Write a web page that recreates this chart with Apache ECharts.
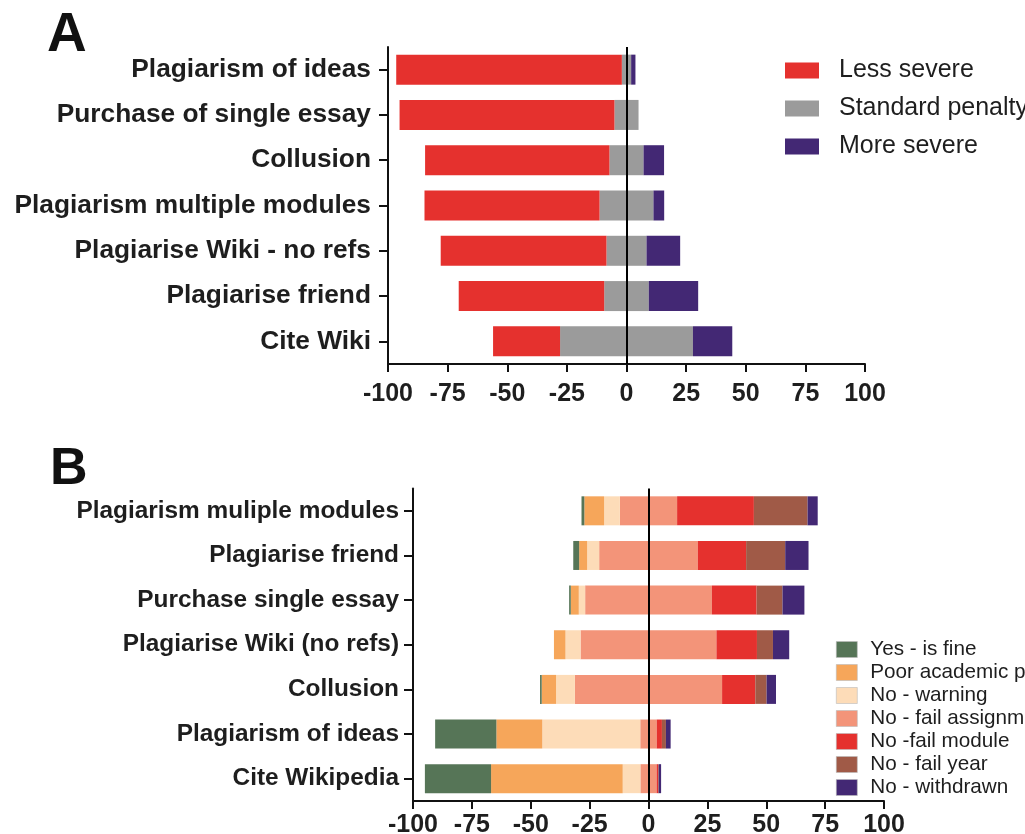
<!DOCTYPE html>
<html>
<head>
<meta charset="utf-8">
<script src="https://cdn.jsdelivr.net/npm/echarts@6/dist/echarts.min.js"></script>
<style>
html,body{margin:0;padding:0;background:#fff;}
#chart{width:1025px;height:834px;}
</style>
</head>
<body>
<div id="chart"></div>
<script>
// Panel A data (percent of respondents)
var catsA = ['Plagiarism of ideas','Purchase of single essay','Collusion','Plagiarism multiple modules','Plagiarise Wiki - no refs','Plagiarise friend','Cite Wiki'];
var lessSevere = [94.6, 90.1, 77.3, 73.4, 69.5, 61.0, 28.1];
var standardPenalty = [3.9, 10.1, 14.3, 22.6, 16.8, 18.7, 55.7];
var moreSevere = [1.8, 0, 8.6, 4.5, 14.1, 20.7, 16.5];

// Panel B data (percent of respondents)
var catsB = ['Plagiarism muliple modules','Plagiarise friend','Purchase single essay','Plagiarise Wiki (no refs)','Collusion','Plagiarism of ideas','Cite Wikipedia'];
var yesFine = [1.2, 2.5, 0.7, 0, 0.7, 26.0, 28.1];
var poorPractice = [8.4, 3.4, 3.4, 4.9, 6.1, 19.5, 55.9];
var noWarning = [6.7, 5.1, 2.7, 6.4, 8.0, 41.6, 7.5];
var failAssignment = [24.3, 41.9, 53.8, 57.7, 62.5, 7.0, 6.9];
var failModule = [32.6, 20.5, 19.0, 17.2, 14.1, 2.2, 0.6];
var failYear = [22.8, 16.6, 11.0, 6.8, 4.8, 1.7, 0.3];
var withdrawn = [4.3, 9.9, 9.3, 6.9, 4.0, 2.0, 1.0];

var ticks = [-100,-75,-50,-25,0,25,50,75,100];

var FONT = '"Liberation Sans", Arial, sans-serif';
var TXT = '#1e1e1e';

var cRed = '#e5312e', cGray = '#9b9b9b', cPurple = '#432874';
var cGreen = '#567557', cOrange = '#f6a65a', cPeach = '#fddcb8', cSalmon = '#f39479', cBrown = '#a05a47';

function neg(a){return a.map(function(v){return -v;});}
function half(a,s){return a.map(function(v){return s*v/2;});}

var zeroLine = {
  silent: true, symbol: ['none','none'], label: {show:false},
  lineStyle: {color:'#000', width:2, type:'solid'},
  emphasis: {disabled:true},
  data: [{xAxis: 0}]
};

function xAx(gi, margin){
  return {
    gridIndex: gi, type:'value', min:-100, max:100, interval:25,
    axisLine:{show:true, onZero:false, lineStyle:{color:'#111', width:2}},
    axisTick:{show:true, length:8, lineStyle:{color:'#111', width:2}},
    splitLine:{show:false},
    axisLabel:{color:TXT, fontSize:25, fontWeight:'bold', fontFamily:FONT, margin:margin,
      formatter:function(v){return ticks.indexOf(v)>=0 ? String(v) : '';}}
  };
}
function yAx(gi, cats, margin, fs, pad){
  return {
    gridIndex: gi, type:'category', data: cats, inverse:true,
    axisLine:{show:true, onZero:false, lineStyle:{color:'#111', width:2}},
    axisTick:{show:true, length:9, alignWithLabel:true, lineStyle:{color:'#111', width:2}},
    splitLine:{show:false},
    axisLabel:{color:TXT, fontSize:fs, fontWeight:'bold', fontFamily:FONT, margin:margin, padding:[pad,0,0,0]}
  };
}

function bar(name, data, color, xi, stack, bw, extra){
  var s = {name:name, type:'bar', xAxisIndex:xi, yAxisIndex:xi, stack:stack, data:data,
    barWidth:bw, itemStyle:{color:color}, emphasis:{disabled:true}};
  if (extra) s.markLine = extra;
  return s;
}

var option = {
  animation:false,
  backgroundColor:'#fff',
  grid:[
    {left:388, top:47, width:477, height:317, outerBoundsMode:'none', containLabel:false},
    {left:413, top:488.5, width:471, height:312.5, outerBoundsMode:'none', containLabel:false}
  ],
  xAxis:[xAx(0,18), xAx(1,12)],
  yAxis:[yAx(0,catsA,17,26.3,8), yAx(1,catsB,14,24.4,5)],
  legend:[
    {
      orient:'vertical', left:780, top:53, itemWidth:34, itemHeight:16, itemGap:13,
      icon:'rect', selectedMode:false,
      data:['Less severe','Standard penalty','More severe'],
      textStyle:{color:TXT, fontSize:25, fontFamily:FONT, padding:[0,0,0,15]}
    },
    {
      orient:'vertical', left:831, top:634, itemWidth:21, itemHeight:16, itemGap:2,
      icon:'rect', selectedMode:false,
      data:['Yes - is fine','Poor academic practice','No - warning','No - fail assignment','No -fail module','No - fail year','No - withdrawn'],
      itemStyle:{borderColor:'#bbb', borderWidth:0.6},
      textStyle:{color:TXT, fontSize:20.7, fontFamily:FONT, padding:[0,0,0,8]}
    }
  ],
  graphic:[
    {type:'text', left:47, top:8, style:{text:'A', font:'bold 55px "Liberation Sans", Arial, sans-serif', fill:'#111'}},
    {type:'text', left:50, top:444, style:{text:'B', font:'bold 52px "Liberation Sans", Arial, sans-serif', fill:'#111'}}
  ],
  series:[
    bar('Standard penalty', half(standardPenalty,-1), cGray, 0, 'A', 30),
    bar('Less severe', neg(lessSevere), cRed, 0, 'A', 30),
    bar('Standard penalty', half(standardPenalty,1), cGray, 0, 'A', 30),
    bar('More severe', moreSevere, cPurple, 0, 'A', 30, zeroLine),

    bar('No - fail assignment', half(failAssignment,-1), cSalmon, 1, 'B', 29),
    bar('No - warning', neg(noWarning), cPeach, 1, 'B', 29),
    bar('Poor academic practice', neg(poorPractice), cOrange, 1, 'B', 29),
    bar('Yes - is fine', neg(yesFine), cGreen, 1, 'B', 29),
    bar('No - fail assignment', half(failAssignment,1), cSalmon, 1, 'B', 29),
    bar('No -fail module', failModule, cRed, 1, 'B', 29),
    bar('No - fail year', failYear, cBrown, 1, 'B', 29),
    bar('No - withdrawn', withdrawn, cPurple, 1, 'B', 29, zeroLine)
  ]
};

var chart = echarts.init(document.getElementById('chart'), null, {renderer:'canvas'});
chart.setOption(option);
</script>
</body>
</html>
